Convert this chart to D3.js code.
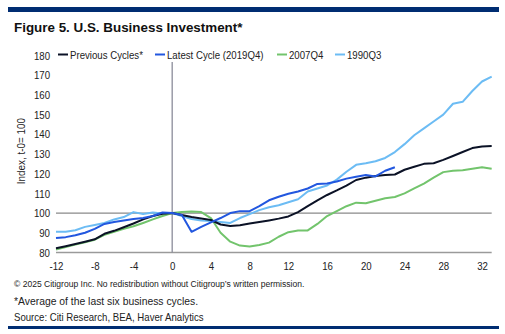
<!DOCTYPE html>
<html>
<head>
<meta charset="utf-8">
<script src="https://cdn.jsdelivr.net/npm/d3@7"></script>
<style>
  body { margin: 0; background: #fff; }
  text { font-family: "Liberation Sans", Arial, sans-serif; }
</style>
</head>
<body>
<div id="vis"></div>
<script>
// quarters relative to cycle peak
var quarters = d3.range(-12, 34);

var previousCycles = [82.2, 83.2, 84.3, 85.5, 86.7, 89.5, 91, 92.8, 94.7, 96.8, 98.5, 99.7, 100,
  99, 98, 97.3, 96.5, 94.2, 93.5, 93.8, 94.7, 95.5, 96.3, 97.2, 98.3, 100.5, 103.5, 106.5, 109.2,
  111.5, 114, 116.8, 118, 118.8, 119.3, 119.6, 122, 123.5, 125, 125.3, 127, 129, 131, 133, 133.8, 134];

var latestCycle = [87.3, 87.8, 88.8, 90, 92, 94.5, 95.5, 96.3, 97, 97.5, 98.5, 100.3, 100,
  99, 90.5, 93, 95.3, 97.5, 100, 101, 101, 103.5, 106.5, 108.3, 109.8, 111, 112.5, 114.8, 115,
  116, 117.5, 118.5, 119.3, 118.6, 121.5, 123.3];

var cycle2007 = [81.5, 82.8, 84, 85.2, 86.5, 89, 90.5, 92, 93.3, 95, 96.8, 98.5, 100,
  100.5, 100.8, 100.5, 97.5, 90, 85.5, 83.5, 83, 83.8, 85, 88, 90.3, 91.2, 91.2, 94.5, 98.5,
  101, 103.5, 105.3, 105, 106.3, 107.5, 108.2, 110, 112.5, 115, 118, 120.8, 121.5, 121.7, 122.5, 123.3, 122.5];

var cycle1990 = [90.5, 90.5, 91.3, 93, 94, 95, 96.8, 98, 100.5, 99.5, 100.3, 99.8, 100,
  98.5, 97, 96.3, 96, 95.5, 95, 97.5, 99.5, 101.5, 103, 104, 105.5, 107, 111, 112.5, 114,
  117, 121, 124.5, 125.3, 126.3, 128, 131, 135, 139.5, 143, 146.5, 150, 155.5, 156.5, 162, 166.8, 169.3];

var seriesNames = ["Previous Cycles*", "Latest Cycle (2019Q4)", "2007Q4", "1990Q3"];
var seriesColors = ["#0b1226", "#2257df", "#72c46c", "#6cbcf4"];
var seriesValues = [previousCycles, latestCycle, cycle2007, cycle1990];

var xTicks = d3.range(-12, 33, 4);
var yTicks = d3.range(80, 181, 10);

var width = 505, height = 334;
var navy = "#002d72";
var squeeze = 0.84;   // the original uses a condensed face

var svg = d3.select("#vis")
    .append("svg")
    .attr("width", width)
    .attr("height", height);

// top / bottom rules
svg.append("rect").attr("x", 8).attr("y", 7).attr("width", 491).attr("height", 5).attr("fill", navy);
svg.append("rect").attr("x", 8).attr("y", 326).attr("width", 491).attr("height", 3).attr("fill", navy);

svg.append("text")
    .attr("x", 14).attr("y", 32)
    .style("font-weight", "bold")
    .style("font-size", "13.4px")
    .attr("fill", "#111")
    .text("Figure 5. U.S. Business Investment*");

var x = d3.scaleLinear().domain([-12, 32]).range([56, 482]);
var y = d3.scaleLinear().domain([80, 180]).range([252.5, 55.5]);

// reference lines
svg.append("line")
    .attr("x1", x(-12)).attr("x2", x(33))
    .attr("y1", y(80)).attr("y2", y(80))
    .attr("stroke", "#9a9a9a").attr("stroke-width", 1.3);
svg.append("line")
    .attr("x1", x(-12)).attr("x2", x(33))
    .attr("y1", y(100)).attr("y2", y(100))
    .attr("stroke", "#8a8a8a").attr("stroke-width", 1.3);
svg.append("line")
    .attr("x1", x(0)).attr("x2", x(0))
    .attr("y1", 62).attr("y2", y(80))
    .attr("stroke", "#8a8c9a").attr("stroke-width", 1.3);

// y axis tick labels
var yAxis = d3.axisLeft(y).tickValues(yTicks).tickSize(0).tickPadding(0);
var gy = svg.append("g").attr("transform", "translate(50,0)").call(yAxis);
gy.select(".domain").remove();
gy.selectAll("text")
    .style("font-family", "'Liberation Sans', Arial, sans-serif")
    .style("font-size", "11.5px").attr("fill", "#222")
    .attr("transform", "scale(" + squeeze + ",1)");

// x axis tick labels (plain hyphen for negatives)
var xAxis = d3.axisBottom(x).tickValues(xTicks).tickSize(0).tickPadding(0)
    .tickFormat(function(d) { return String(d); });
var gx = svg.append("g").attr("transform", "translate(0,262)").call(xAxis);
gx.select(".domain").remove();
gx.selectAll("text")
    .style("font-family", "'Liberation Sans', Arial, sans-serif")
    .style("font-size", "11.5px").attr("fill", "#222")
    .attr("transform", "scale(" + squeeze + ",1)");

svg.append("text")
    .attr("transform", "translate(25,151) rotate(-90) scale(0.9,1)")
    .attr("text-anchor", "middle")
    .style("font-size", "11px")
    .attr("fill", "#222")
    .text("Index, t-0= 100");

// series lines
var line = d3.line()
    .x(function(d, i) { return x(quarters[i]); })
    .y(function(d) { return y(d); });

[3, 2, 0, 1].forEach(function(k) {
  svg.append("path")
    .datum(seriesValues[k])
    .attr("fill", "none")
    .attr("stroke", seriesColors[k])
    .attr("stroke-width", 2)
    .attr("stroke-linejoin", "round")
    .attr("d", line);
});

// legend
var legendX = [58, 155, 277, 335];
var legend = svg.selectAll("g.legend")
    .data(seriesNames)
    .join("g")
    .attr("class", "legend")
    .attr("transform", function(d, i) { return "translate(" + legendX[i] + ",54.5)"; });
legend.append("line")
    .attr("x1", 0).attr("x2", 10)
    .attr("stroke", function(d, i) { return seriesColors[i]; })
    .attr("stroke-width", 2);
legend.append("text")
    .attr("transform", "translate(12,0) scale(" + squeeze + ",1)")
    .attr("dy", "0.35em")
    .style("font-size", "11.5px")
    .attr("fill", "#222")
    .text(function(d) { return d; });

// footnotes
function note(txt, yPos, size, sx) {
  svg.append("text")
    .attr("transform", "translate(14," + yPos + ") scale(" + sx + ",1)")
    .style("font-size", size)
    .attr("fill", "#222")
    .text(txt);
}
note("\u00a9 2025 Citigroup Inc. No redistribution without Citigroup\u2019s written permission.", 287, "9.6px", 0.89);
note("*Average of the last six business cycles.", 305, "10.8px", 0.96);
note("Source: Citi Research, BEA, Haver Analytics", 321, "10.8px", 0.89);
</script>
</body>
</html>
